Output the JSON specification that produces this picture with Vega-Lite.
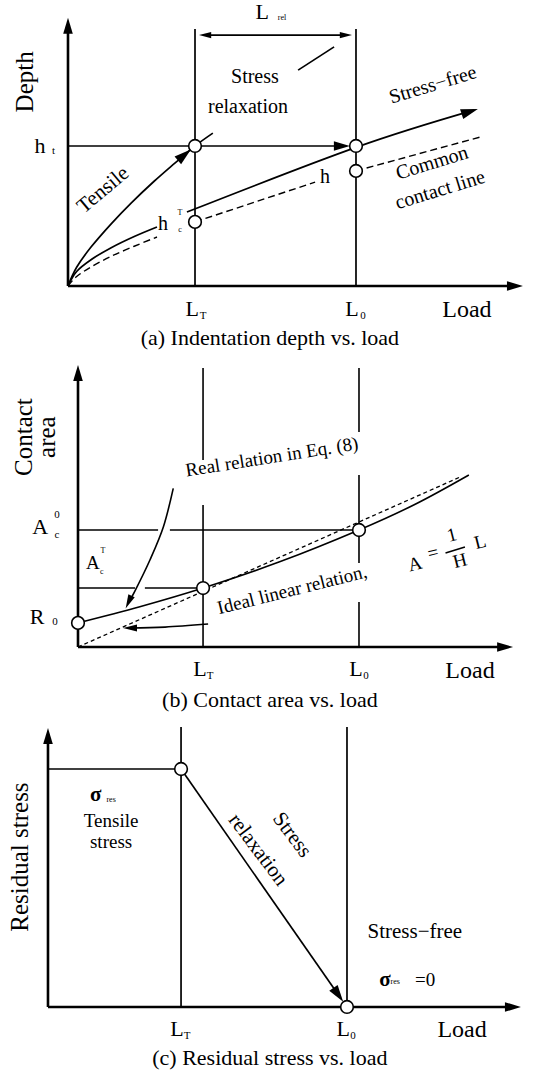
{
"$schema":"https://vega.github.io/schema/vega-lite/v6.json",
"background":"white",
"padding":0,
"spacing":0,
"config":{"view":{"stroke":null},"text":{"font":"Liberation Serif","color":"black","baseline":"middle","align":"center"}},
"datasets":{
"a_axes":[{"g":"y","o":0,"x":0,"y":0},{"g":"y","o":1,"x":0,"y":9.29},{"g":"x","o":0,"x":0,"y":0},{"g":"x","o":1,"x":15.52,"y":0}],
"a_solid":[
{"g":"vLT","o":0,"x":4.41,"y":0},{"g":"vLT","o":1,"x":4.41,"y":9.18},
{"g":"vL0","o":0,"x":10,"y":0},{"g":"vL0","o":1,"x":10,"y":9.18},
{"g":"lrel","o":0,"x":4.76,"y":8.96},{"g":"lrel","o":1,"x":9.65,"y":8.96},
{"g":"ht","o":0,"x":0,"y":5},{"g":"ht","o":1,"x":9.51,"y":5},
{"g":"tens","o":0,"x":0,"y":0},{"g":"tens","o":1,"x":0.3,"y":0.67},{"g":"tens","o":2,"x":0.8,"y":1.39},{"g":"tens","o":3,"x":1.5,"y":2.22},{"g":"tens","o":4,"x":2.2,"y":2.97},{"g":"tens","o":5,"x":3.0,"y":3.75},{"g":"tens","o":6,"x":3.7,"y":4.38},{"g":"tens","o":7,"x":4.41,"y":5.0},{"g":"tens","o":8,"x":5.03,"y":5.46},
{"g":"lead","o":0,"x":7.99,"y":7.71},{"g":"lead","o":1,"x":9.24,"y":8.54},
{"g":"free","o":0,"x":4.13,"y":2.64},{"g":"free","o":1,"x":10,"y":4.95},{"g":"free","o":2,"x":14.1,"y":6.28},
{"g":"low","o":0,"x":0,"y":0},{"g":"low","o":1,"x":0.3,"y":0.52},{"g":"low","o":2,"x":0.8,"y":0.94},{"g":"low","o":3,"x":1.5,"y":1.37},{"g":"low","o":4,"x":2.3,"y":1.77},{"g":"low","o":5,"x":3.09,"y":2.11}],
"a_dash":[
{"g":"lowd","o":0,"x":0,"y":0},{"g":"lowd","o":1,"x":0.3,"y":0.34},{"g":"lowd","o":2,"x":0.8,"y":0.68},{"g":"lowd","o":3,"x":1.5,"y":1.06},{"g":"lowd","o":4,"x":2.3,"y":1.42},{"g":"lowd","o":5,"x":3.09,"y":1.75},
{"g":"cc1","o":0,"x":4.41,"y":2.29},{"g":"cc1","o":1,"x":8.58,"y":3.71},
{"g":"cc2","o":0,"x":10,"y":4.11},{"g":"cc2","o":1,"x":14.31,"y":5.32}],
"a_circ":[{"x":4.41,"y":5},{"x":10,"y":5},{"x":10,"y":4.11},{"x":4.41,"y":2.29}],
"a_arr":[{"k":"up","x":0,"y":9.29},{"k":"right","x":15.52,"y":0},{"k":"right","x":9.51,"y":5},{"k":"rs","x":9.65,"y":8.96},{"k":"ls","x":4.76,"y":8.96},{"k":"tens","x":4.04,"y":4.68},{"k":"free","x":13.95,"y":6.23}],
"a_txt":[
{"k":"yl","t":"Depth","x":-1.49,"y":7.29},
{"k":"big","t":"h","x":-0.97,"y":5.0},{"k":"big","t":"L","x":4.31,"y":-0.82},{"k":"big","t":"L","x":9.86,"y":-0.82},{"k":"big","t":"L","x":6.74,"y":9.79},
{"k":"load","t":"Load","x":13.85,"y":-0.86},
{"k":"sub","t":"t","x":-0.5,"y":4.82},{"k":"sub","t":"T","x":4.69,"y":-1.07},{"k":"sub","t":"0","x":10.24,"y":-1.07},
{"k":"tiny","t":"rel","x":7.43,"y":9.57},{"k":"tiny","t":"T","x":3.89,"y":2.61},{"k":"tiny","t":"c","x":3.89,"y":2.0},
{"k":"mid","t":"Stress","x":6.49,"y":7.46},{"k":"mid","t":"relaxation","x":6.25,"y":6.39},{"k":"mid","t":"h","x":8.92,"y":3.89},{"k":"mid","t":"h","x":3.3,"y":2.21},
{"k":"r17","t":"Stress−free","x":12.67,"y":7.18},{"k":"r17","t":"Common","x":12.64,"y":4.39},{"k":"r17","t":"contact line","x":12.92,"y":3.43},
{"k":"r40","t":"Tensile","x":1.22,"y":3.43},
{"k":"cap","t":"(a) Indentation depth vs. load","x":7.01,"y":-1.86}],
"b_axes":[{"g":"y","o":0,"x":0,"y":0},{"g":"y","o":1,"x":0,"y":11.71},{"g":"x","o":0,"x":0,"y":0},{"g":"x","o":1,"x":15.2,"y":0}],
"b_solid":[
{"g":"vT1","o":0,"x":4.45,"y":0},{"g":"vT1","o":1,"x":4.45,"y":6.07},
{"g":"vT2","o":0,"x":4.45,"y":7.99},{"g":"vT2","o":1,"x":4.45,"y":11.92},
{"g":"v01","o":0,"x":10,"y":0},{"g":"v01","o":1,"x":10,"y":1.92},
{"g":"v02","o":0,"x":10,"y":3.59},{"g":"v02","o":1,"x":10,"y":7.35},
{"g":"v03","o":0,"x":10,"y":9.19},{"g":"v03","o":1,"x":10,"y":11.92},
{"g":"a01","o":0,"x":0,"y":5},{"g":"a01","o":1,"x":2.85,"y":5},
{"g":"a02","o":0,"x":3.27,"y":5},{"g":"a02","o":1,"x":10,"y":5},
{"g":"aT1","o":0,"x":0,"y":2.52},{"g":"aT1","o":1,"x":2.03,"y":2.52},
{"g":"aT2","o":0,"x":2.38,"y":2.52},{"g":"aT2","o":1,"x":4.45,"y":2.52},
{"g":"real","o":0,"x":0,"y":1.03},{"g":"real","o":1,"x":2.2,"y":1.72},{"g":"real","o":2,"x":4.45,"y":2.52},{"g":"real","o":3,"x":7.2,"y":3.65},{"g":"real","o":4,"x":10,"y":5},{"g":"real","o":5,"x":12,"y":6.1},{"g":"real","o":6,"x":13.91,"y":7.35},
{"g":"carr","o":0,"x":3.39,"y":6.78},{"g":"carr","o":1,"x":3.04,"y":5.14},{"g":"carr","o":2,"x":2.56,"y":3.72},{"g":"carr","o":3,"x":2.02,"y":2.38},{"g":"carr","o":4,"x":1.8,"y":1.92},
{"g":"harr","o":0,"x":4.63,"y":0.98},{"g":"harr","o":1,"x":3.1,"y":0.85},{"g":"harr","o":2,"x":1.85,"y":0.81},
{"g":"frac","o":0,"x":13.08,"y":4.02},{"g":"frac","o":1,"x":13.77,"y":4.27}],
"b_dash":[{"g":"ideal","o":0,"x":0,"y":0},{"g":"ideal","o":1,"x":13.59,"y":7.26}],
"b_circ":[{"x":0,"y":1.03},{"x":4.45,"y":2.52},{"x":10,"y":5}],
"b_arr":[{"k":"up","x":0,"y":11.71},{"k":"right","x":15.2,"y":0},{"k":"curve","x":1.8,"y":1.92},{"k":"left","x":1.85,"y":0.81}],
"b_txt":[
{"k":"yl","t":"Contact","x":-1.92,"y":8.97},{"k":"yl","t":"area","x":-1.12,"y":8.97},
{"k":"big","t":"A","x":-1.35,"y":5.13},{"k":"big","t":"R","x":-1.46,"y":1.28},{"k":"big","t":"L","x":4.34,"y":-0.94},{"k":"big","t":"L","x":9.89,"y":-0.94},
{"k":"load","t":"Load","x":13.95,"y":-1.03},
{"k":"mid","t":"A","x":0.53,"y":3.59},
{"k":"sub","t":"0","x":-0.75,"y":5.64},{"k":"sub","t":"c","x":-0.75,"y":4.79},{"k":"sub","t":"0","x":-0.82,"y":1.07},{"k":"sub","t":"T","x":4.7,"y":-1.24},{"k":"sub","t":"0","x":10.25,"y":-1.24},
{"k":"tiny","t":"T","x":0.89,"y":4.1},{"k":"tiny","t":"c","x":0.85,"y":3.21},
{"k":"r9","t":"Real relation in Eq. (8)","x":6.9,"y":8.12},
{"k":"r14","t":"Ideal linear relation,","x":7.62,"y":2.44},{"k":"r14","t":"A","x":11.99,"y":3.55},{"k":"r14","t":"=","x":12.63,"y":4.02},{"k":"r14","t":"1","x":13.31,"y":4.79},{"k":"r14","t":"H","x":13.59,"y":3.68},{"k":"r14","t":"L","x":14.31,"y":4.49},
{"k":"cap","t":"(b) Contact area vs. load","x":6.83,"y":-2.26}],
"c_axes":[{"g":"y","o":0,"x":0,"y":0},{"g":"y","o":1,"x":0,"y":9.11},{"g":"x","o":0,"x":0,"y":0},{"g":"x","o":1,"x":15.55,"y":0}],
"c_solid":[
{"g":"vLT","o":0,"x":4.45,"y":0},{"g":"vLT","o":1,"x":4.45,"y":9.41},
{"g":"vL0","o":0,"x":10,"y":0},{"g":"vL0","o":1,"x":10,"y":9.41},
{"g":"h","o":0,"x":0,"y":8},{"g":"h","o":1,"x":4.45,"y":8},
{"g":"d","o":0,"x":4.45,"y":8},{"g":"d","o":1,"x":9.71,"y":0.41}],
"c_circ":[{"x":4.45,"y":8},{"x":10,"y":0}],
"c_arr":[{"k":"up","x":0,"y":9.11},{"k":"right","x":15.55,"y":0},{"k":"diag","x":9.71,"y":0.41}],
"c_txt":[
{"k":"yl","t":"Residual stress","x":-0.94,"y":5.04},
{"k":"big","t":"L","x":4.31,"y":-0.74},{"k":"big","t":"L","x":9.87,"y":-0.74},
{"k":"load","t":"Load","x":13.85,"y":-0.77},
{"k":"sub","t":"T","x":4.65,"y":-0.97},{"k":"sub","t":"0","x":10.2,"y":-0.97},
{"k":"sig","t":"σ","x":1.6,"y":7.13},{"k":"sig","t":"σ","x":11.27,"y":0.91},
{"k":"tiny","t":"res","x":2.11,"y":6.96},{"k":"tiny","t":"res","x":11.61,"y":0.84},
{"k":"mid","t":"Tensile","x":2.11,"y":6.25},{"k":"mid","t":"stress","x":2.11,"y":5.55},{"k":"mid","t":"=0","x":12.61,"y":0.91},
{"k":"free","t":"Stress−free","x":12.27,"y":2.52},
{"k":"r53","t":"Stress","x":8.16,"y":5.78},{"k":"r53","t":"relaxation","x":7.02,"y":5.28},
{"k":"cap","t":"(c) Residual stress vs. load","x":7.42,"y":-1.71}]
},
"vconcat":[
{
"width":537,"height":352,
"encoding":{
"x":{"field":"x","type":"quantitative","scale":{"domain":[-2.361,16.285],"nice":false,"zero":false},"axis":null},
"y":{"field":"y","type":"quantitative","scale":{"domain":[-2.357,10.214],"nice":false,"zero":false},"axis":null}},
"layer":[
{"data":{"name":"a_axes"},"mark":{"type":"line","color":"black","strokeWidth":2.6},"encoding":{"detail":{"field":"g"},"order":{"field":"o"}}},
{"data":{"name":"a_solid"},"mark":{"type":"line","color":"black","strokeWidth":1.7,"interpolate":"cardinal"},"encoding":{"detail":{"field":"g"},"order":{"field":"o"}}},
{"data":{"name":"a_dash"},"mark":{"type":"line","color":"black","strokeWidth":1.4,"strokeDash":[7,4],"interpolate":"cardinal"},"encoding":{"detail":{"field":"g"},"order":{"field":"o"}}},
{"data":{"name":"a_circ"},"mark":{"type":"point","shape":"circle","filled":true,"fill":"white","stroke":"black","strokeWidth":1.6,"size":160,"opacity":1}},
{"data":{"name":"a_arr"},"transform":[{"filter":"datum.k==='up'"}],"mark":{"type":"point","shape":"M1,0L-1,-0.6L-1,0.6Z","filled":true,"color":"black","opacity":1,"size":256,"angle":-90}},
{"data":{"name":"a_arr"},"transform":[{"filter":"datum.k==='right'"}],"mark":{"type":"point","shape":"M1,0L-1,-0.6L-1,0.6Z","filled":true,"color":"black","opacity":1,"size":256,"angle":0}},
{"data":{"name":"a_arr"},"transform":[{"filter":"datum.k==='rs'"}],"mark":{"type":"point","shape":"M1,0L-1,-0.5L-1,0.5Z","filled":true,"color":"black","opacity":1,"size":150,"angle":0}},
{"data":{"name":"a_arr"},"transform":[{"filter":"datum.k==='ls'"}],"mark":{"type":"point","shape":"M1,0L-1,-0.5L-1,0.5Z","filled":true,"color":"black","opacity":1,"size":150,"angle":180}},
{"data":{"name":"a_arr"},"transform":[{"filter":"datum.k==='tens'"}],"mark":{"type":"point","shape":"M1,0L-1,-0.6L-1,0.6Z","filled":true,"color":"black","opacity":1,"size":289,"angle":-40}},
{"data":{"name":"a_arr"},"transform":[{"filter":"datum.k==='free'"}],"mark":{"type":"point","shape":"M1,0L-1,-0.6L-1,0.6Z","filled":true,"color":"black","opacity":1,"size":289,"angle":-18}},
{"data":{"name":"a_txt"},"transform":[{"filter":"datum.k==='yl'"}],"mark":{"type":"text","fontSize":25,"angle":270},"encoding":{"text":{"field":"t"}}},
{"data":{"name":"a_txt"},"transform":[{"filter":"datum.k==='big'"}],"mark":{"type":"text","fontSize":22},"encoding":{"text":{"field":"t"}}},
{"data":{"name":"a_txt"},"transform":[{"filter":"datum.k==='load'"}],"mark":{"type":"text","fontSize":24},"encoding":{"text":{"field":"t"}}},
{"data":{"name":"a_txt"},"transform":[{"filter":"datum.k==='sub'"}],"mark":{"type":"text","fontSize":11},"encoding":{"text":{"field":"t"}}},
{"data":{"name":"a_txt"},"transform":[{"filter":"datum.k==='tiny'"}],"mark":{"type":"text","fontSize":8},"encoding":{"text":{"field":"t"}}},
{"data":{"name":"a_txt"},"transform":[{"filter":"datum.k==='mid'"}],"mark":{"type":"text","fontSize":20},"encoding":{"text":{"field":"t"}}},
{"data":{"name":"a_txt"},"transform":[{"filter":"datum.k==='r17'"}],"mark":{"type":"text","fontSize":20,"angle":-17},"encoding":{"text":{"field":"t"}}},
{"data":{"name":"a_txt"},"transform":[{"filter":"datum.k==='r40'"}],"mark":{"type":"text","fontSize":21,"angle":-40},"encoding":{"text":{"field":"t"}}},
{"data":{"name":"a_txt"},"transform":[{"filter":"datum.k==='cap'"}],"mark":{"type":"text","fontSize":22},"encoding":{"text":{"field":"t"}}}
]},
{
"width":537,"height":360,
"encoding":{
"x":{"field":"x","type":"quantitative","scale":{"domain":[-2.776,16.335],"nice":false,"zero":false},"axis":null},
"y":{"field":"y","type":"quantitative","scale":{"domain":[-2.778,12.607],"nice":false,"zero":false},"axis":null}},
"layer":[
{"data":{"name":"b_axes"},"mark":{"type":"line","color":"black","strokeWidth":2.6},"encoding":{"detail":{"field":"g"},"order":{"field":"o"}}},
{"data":{"name":"b_solid"},"mark":{"type":"line","color":"black","strokeWidth":1.6,"interpolate":"cardinal"},"encoding":{"detail":{"field":"g"},"order":{"field":"o"}}},
{"data":{"name":"b_dash"},"mark":{"type":"line","color":"black","strokeWidth":1.3,"strokeDash":[4,3]},"encoding":{"detail":{"field":"g"},"order":{"field":"o"}}},
{"data":{"name":"b_circ"},"mark":{"type":"point","shape":"circle","filled":true,"fill":"white","stroke":"black","strokeWidth":1.6,"size":160,"opacity":1}},
{"data":{"name":"b_arr"},"transform":[{"filter":"datum.k==='up'"}],"mark":{"type":"point","shape":"M1,0L-1,-0.6L-1,0.6Z","filled":true,"color":"black","opacity":1,"size":256,"angle":-90}},
{"data":{"name":"b_arr"},"transform":[{"filter":"datum.k==='right'"}],"mark":{"type":"point","shape":"M1,0L-1,-0.6L-1,0.6Z","filled":true,"color":"black","opacity":1,"size":256,"angle":0}},
{"data":{"name":"b_arr"},"transform":[{"filter":"datum.k==='curve'"}],"mark":{"type":"point","shape":"M1,0L-1,-0.5L-1,0.5Z","filled":true,"color":"black","opacity":1,"size":196,"angle":115}},
{"data":{"name":"b_arr"},"transform":[{"filter":"datum.k==='left'"}],"mark":{"type":"point","shape":"M1,0L-1,-0.5L-1,0.5Z","filled":true,"color":"black","opacity":1,"size":196,"angle":180}},
{"data":{"name":"b_txt"},"transform":[{"filter":"datum.k==='yl'"}],"mark":{"type":"text","fontSize":25,"angle":270},"encoding":{"text":{"field":"t"}}},
{"data":{"name":"b_txt"},"transform":[{"filter":"datum.k==='big'"}],"mark":{"type":"text","fontSize":22},"encoding":{"text":{"field":"t"}}},
{"data":{"name":"b_txt"},"transform":[{"filter":"datum.k==='load'"}],"mark":{"type":"text","fontSize":24},"encoding":{"text":{"field":"t"}}},
{"data":{"name":"b_txt"},"transform":[{"filter":"datum.k==='mid'"}],"mark":{"type":"text","fontSize":19},"encoding":{"text":{"field":"t"}}},
{"data":{"name":"b_txt"},"transform":[{"filter":"datum.k==='sub'"}],"mark":{"type":"text","fontSize":11},"encoding":{"text":{"field":"t"}}},
{"data":{"name":"b_txt"},"transform":[{"filter":"datum.k==='tiny'"}],"mark":{"type":"text","fontSize":8},"encoding":{"text":{"field":"t"}}},
{"data":{"name":"b_txt"},"transform":[{"filter":"datum.k==='r9'"}],"mark":{"type":"text","fontSize":19,"angle":-9},"encoding":{"text":{"field":"t"}}},
{"data":{"name":"b_txt"},"transform":[{"filter":"datum.k==='r14'"}],"mark":{"type":"text","fontSize":19,"angle":-14},"encoding":{"text":{"field":"t"}}},
{"data":{"name":"b_txt"},"transform":[{"filter":"datum.k==='cap'"}],"mark":{"type":"text","fontSize":22},"encoding":{"text":{"field":"t"}}}
]},
{
"width":537,"height":360,
"encoding":{
"x":{"field":"x","type":"quantitative","scale":{"domain":[-1.605,16.355],"nice":false,"zero":false},"axis":null},
"y":{"field":"y","type":"quantitative","scale":{"domain":[-2.185,9.916],"nice":false,"zero":false},"axis":null}},
"layer":[
{"data":{"name":"c_axes"},"mark":{"type":"line","color":"black","strokeWidth":2.6},"encoding":{"detail":{"field":"g"},"order":{"field":"o"}}},
{"data":{"name":"c_solid"},"mark":{"type":"line","color":"black","strokeWidth":1.7},"encoding":{"detail":{"field":"g"},"order":{"field":"o"}}},
{"data":{"name":"c_circ"},"mark":{"type":"point","shape":"circle","filled":true,"fill":"white","stroke":"black","strokeWidth":1.6,"size":160,"opacity":1}},
{"data":{"name":"c_arr"},"transform":[{"filter":"datum.k==='up'"}],"mark":{"type":"point","shape":"M1,0L-1,-0.6L-1,0.6Z","filled":true,"color":"black","opacity":1,"size":256,"angle":-90}},
{"data":{"name":"c_arr"},"transform":[{"filter":"datum.k==='right'"}],"mark":{"type":"point","shape":"M1,0L-1,-0.6L-1,0.6Z","filled":true,"color":"black","opacity":1,"size":256,"angle":0}},
{"data":{"name":"c_arr"},"transform":[{"filter":"datum.k==='diag'"}],"mark":{"type":"point","shape":"M1,0L-1,-0.6L-1,0.6Z","filled":true,"color":"black","opacity":1,"size":289,"angle":55}},
{"data":{"name":"c_txt"},"transform":[{"filter":"datum.k==='yl'"}],"mark":{"type":"text","fontSize":25,"angle":270},"encoding":{"text":{"field":"t"}}},
{"data":{"name":"c_txt"},"transform":[{"filter":"datum.k==='big'"}],"mark":{"type":"text","fontSize":22},"encoding":{"text":{"field":"t"}}},
{"data":{"name":"c_txt"},"transform":[{"filter":"datum.k==='load'"}],"mark":{"type":"text","fontSize":24},"encoding":{"text":{"field":"t"}}},
{"data":{"name":"c_txt"},"transform":[{"filter":"datum.k==='sub'"}],"mark":{"type":"text","fontSize":11},"encoding":{"text":{"field":"t"}}},
{"data":{"name":"c_txt"},"transform":[{"filter":"datum.k==='sig'"}],"mark":{"type":"text","fontSize":21,"fontWeight":"bold"},"encoding":{"text":{"field":"t"}}},
{"data":{"name":"c_txt"},"transform":[{"filter":"datum.k==='tiny'"}],"mark":{"type":"text","fontSize":8},"encoding":{"text":{"field":"t"}}},
{"data":{"name":"c_txt"},"transform":[{"filter":"datum.k==='mid'"}],"mark":{"type":"text","fontSize":19},"encoding":{"text":{"field":"t"}}},
{"data":{"name":"c_txt"},"transform":[{"filter":"datum.k==='free'"}],"mark":{"type":"text","fontSize":21},"encoding":{"text":{"field":"t"}}},
{"data":{"name":"c_txt"},"transform":[{"filter":"datum.k==='r53'"}],"mark":{"type":"text","fontSize":21,"angle":53},"encoding":{"text":{"field":"t"}}},
{"data":{"name":"c_txt"},"transform":[{"filter":"datum.k==='cap'"}],"mark":{"type":"text","fontSize":22},"encoding":{"text":{"field":"t"}}}
]}
]
}
